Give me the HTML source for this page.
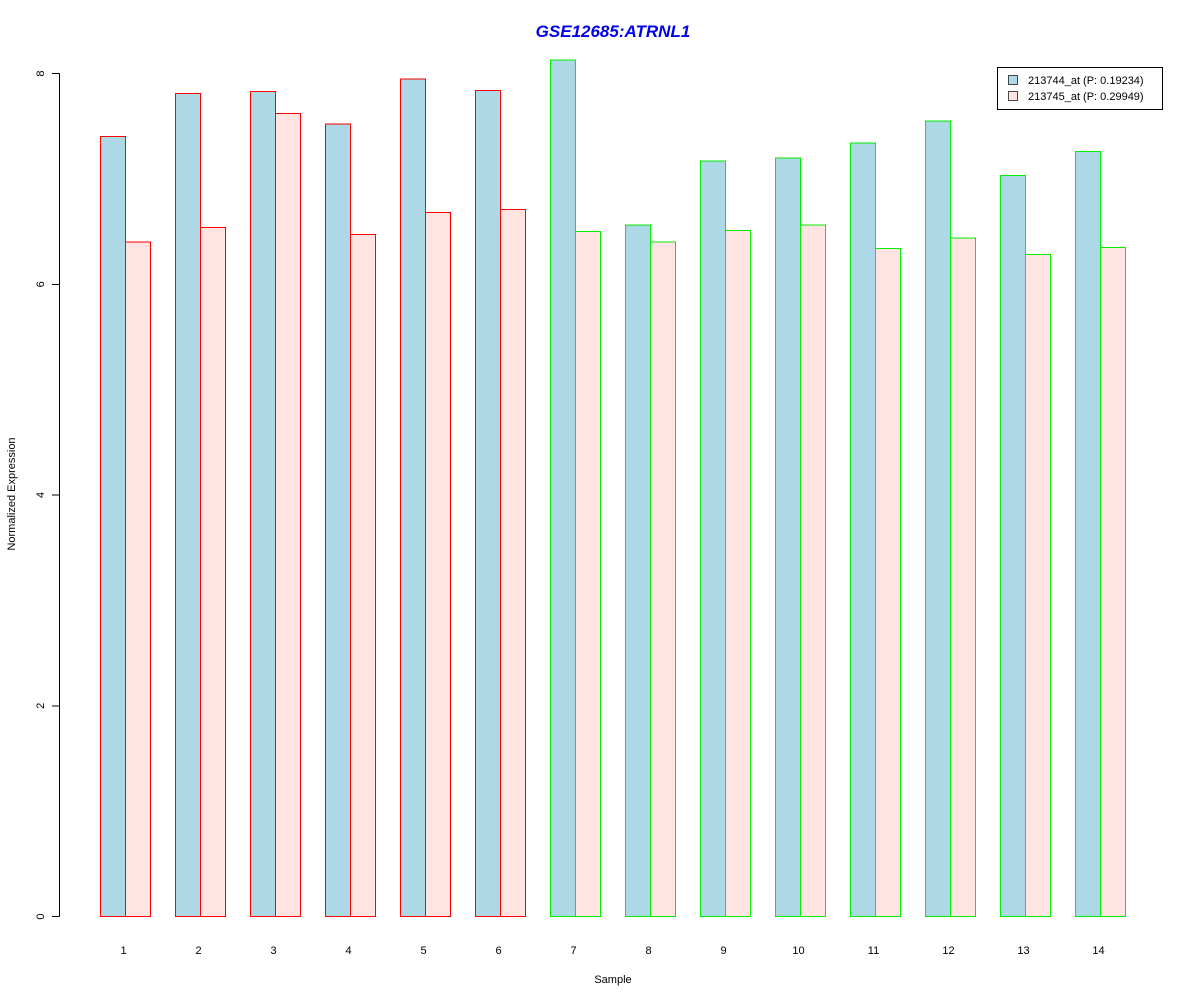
<!DOCTYPE html>
<html><head><meta charset="utf-8"><style>body{margin:0;background:#fff}svg{display:block;font-family:"Liberation Sans",Arial,sans-serif}</style></head>
<body>
<svg id="chart" width="1200" height="1000">
<text x="613" y="37" text-anchor="middle" font-size="17" font-weight="bold" font-style="italic" fill="#0000ee">GSE12685:ATRNL1</text>
<text x="613" y="983" text-anchor="middle" font-size="11">Sample</text>
<text transform="translate(15,494) rotate(-90)" text-anchor="middle" font-size="11">Normalized Expression</text>
<g id="yaxis" shape-rendering="crispEdges"></g>
<g id="bars" shape-rendering="crispEdges"></g>
<g id="xlabels"></g>
<g>
<rect x="997.5" y="67.5" width="165" height="42" fill="#fff" stroke="#000" shape-rendering="crispEdges"/>
<rect x="1008.5" y="75.5" width="9" height="9" fill="#add8e6" stroke="#000" stroke-width="0.7"/>
<text x="1028" y="84" font-size="11">213744_at (P: 0.19234)</text>
<rect x="1008.5" y="91.5" width="9" height="9" fill="#ffe4e1" stroke="#000" stroke-width="0.7"/>
<text x="1028" y="100" font-size="11">213745_at (P: 0.29949)</text>
</g>
</svg>
<script>
const categories = ["1","2","3","4","5","6","7","8","9","10","11","12","13","14"];
const series1 = [7.40,7.81,7.83,7.52,7.95,7.84,8.13,6.56,7.17,7.20,7.34,7.55,7.03,7.26];
const series2 = [6.40,6.54,7.62,6.47,6.68,6.71,6.50,6.40,6.51,6.56,6.34,6.44,6.28,6.35];
const groups = ["a","a","a","a","a","a","b","b","b","b","b","b","b","b"];
const yTicks = [0,2,4,6,8];

const NS="http://www.w3.org/2000/svg";
const y0=916.5, yScale=105.375;
function yPos(v){return y0-v*yScale;}
function xPos(i){return 100.5+75*i;}
const BW=25;
function mk(tag,attrs,parent){const e=document.createElementNS(NS,tag);for(const k in attrs)e.setAttribute(k,attrs[k]);parent.appendChild(e);return e;}
const ya=document.getElementById('yaxis');
mk('line',{x1:59.5,x2:59.5,y1:yPos(0),y2:yPos(8),stroke:'#000'},ya);
yTicks.forEach(t=>{
  const l=mk('line',{x1:52,x2:59.5,y1:yPos(t),y2:yPos(t),stroke:'#000'},ya);
  
  
  const tx=mk('text',{transform:`translate(44,${yPos(t)}) rotate(-90)`,'text-anchor':'middle','font-size':11},ya);
  tx.textContent=t;
  
  
});
const bg=document.getElementById('bars'), xl=document.getElementById('xlabels');
categories.forEach((c,i)=>{
  const col=groups[i]==="a"?"#ff0000":"#00ee00";
  const x=xPos(i);
  const b1=mk('rect',{x:x,y:yPos(series1[i]),width:BW,height:yPos(0)-yPos(series1[i]),fill:'#add8e6',stroke:col},bg);
  
  
  const b2=mk('rect',{x:x+BW,y:yPos(series2[i]),width:BW,height:yPos(0)-yPos(series2[i]),fill:'#ffe4e1',stroke:col},bg);
  
  
  const t=mk('text',{x:x+BW-2,y:954,'text-anchor':'middle','font-size':11},xl);
  t.textContent=c;
  
  
});
</script>
</body></html>
